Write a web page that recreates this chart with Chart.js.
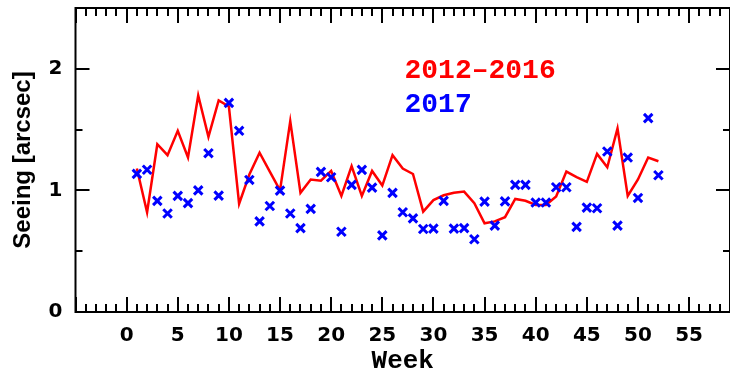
<!DOCTYPE html>
<html>
<head>
<meta charset="utf-8">
<script src="https://cdn.jsdelivr.net/npm/chart.js@4.4.1/dist/chart.umd.min.js"></script>
<style>
  html, body { margin: 0; padding: 0; background: #fff; }
  #wrap { width: 730px; height: 375px; }
</style>
</head>
<body>
<div id="wrap"><canvas id="seeing" width="730" height="375"></canvas></div>
<script>
// Weekly median seeing, weeks 1..52
const weeks = [1,2,3,4,5,6,7,8,9,10,11,12,13,14,15,16,17,18,19,20,21,22,23,24,25,26,
               27,28,29,30,31,32,33,34,35,36,37,38,39,40,41,42,43,44,45,46,47,48,49,50,51,52];

// 2012–2016 average (red line)
const seeing20122016 = [1.18,0.82,1.38,1.29,1.49,1.27,1.78,1.44,1.74,1.69,0.89,1.13,1.31,
                        1.155,1.00,1.57,0.98,1.09,1.08,1.16,0.955,1.20,0.955,1.16,1.04,1.29,
                        1.18,1.135,0.825,0.92,0.96,0.98,0.99,0.895,0.73,0.745,0.78,0.93,0.915,
                        0.88,0.88,0.95,1.155,1.11,1.07,1.30,1.19,1.51,0.955,1.09,1.27,1.24];

// 2017 (blue crosses)
const seeing2017 = [1.136,1.17,0.914,0.81,0.955,0.895,1.00,1.306,0.957,1.72,1.49,1.086,0.745,
                    0.872,0.998,0.81,0.69,0.848,1.152,1.108,0.66,1.045,1.169,1.023,0.63,0.98,
                    0.82,0.77,0.683,0.686,0.914,0.686,0.69,0.598,0.908,0.71,0.91,1.045,1.045,
                    0.90,0.90,1.026,1.026,0.70,0.858,0.853,1.32,0.71,1.27,0.938,1.594,1.125];

const xTickValues = [0,5,10,15,20,25,30,35,40,45,50,55];
const yTickValues = [0,1,2];
const seriesLabels = ['2012\u20132016', '2017'];
const xTitle = 'Week';
const yTitle = 'Seeing [arcsec]';

// Boxed frame with inward ticks on all four sides, plus the in-plot key
const framePlugin = {
  id: 'frameTicks',
  afterDatasetsDraw(chart) {
    const { ctx, chartArea: a, scales: { x, y } } = chart;
    ctx.save();
    ctx.strokeStyle = '#000';
    ctx.lineWidth = 2;
    ctx.strokeRect(a.left, a.top, a.right - a.left, a.bottom - a.top);

    ctx.beginPath();
    for (let v = Math.ceil(x.min); v <= Math.floor(x.max); v++) {
      const px = Math.round(x.getPixelForValue(v));
      const len = (v % 5 === 0) ? 15 : 8;
      ctx.moveTo(px, a.bottom); ctx.lineTo(px, a.bottom - len);
      ctx.moveTo(px, a.top);    ctx.lineTo(px, a.top + len);
    }
    for (let v = 0.5; v < y.max; v += 0.5) {
      const py = Math.round(y.getPixelForValue(v));
      const len = (v % 1 === 0) ? 14 : 7;
      ctx.moveTo(a.left, py);  ctx.lineTo(a.left + len, py);
      ctx.moveTo(a.right, py); ctx.lineTo(a.right - len, py);
    }
    ctx.stroke();

    // key
    ctx.font = 'bold 28px "Liberation Mono", "DejaVu Sans Mono", monospace';
    ctx.textAlign = 'left';
    ctx.textBaseline = 'alphabetic';
    ctx.fillStyle = '#ff0000';
    ctx.fillText(seriesLabels[0], a.left + 329, 78);
    ctx.fillStyle = '#0000ff';
    ctx.fillText(seriesLabels[1], a.left + 329, 112);
    ctx.restore();
  }
};

const tickFont = { family: '"DejaVu Sans", sans-serif', size: 20, weight: 'bold' };

new Chart(document.getElementById('seeing').getContext('2d'), {
  type: 'scatter',
  data: {
    datasets: [
      {
        label: seriesLabels[0],
        type: 'line',
        data: weeks.map((w, i) => ({ x: w, y: seeing20122016[i] })),
        borderColor: '#ff0000',
        borderWidth: 2.5,
        pointRadius: 0,
        tension: 0,
        fill: false,
        order: 2
      },
      {
        label: seriesLabels[1],
        data: weeks.map((w, i) => ({ x: w, y: seeing2017[i] })),
        pointStyle: 'crossRot',
        pointRadius: 6,
        borderWidth: 3,
        borderColor: '#0000ff',
        backgroundColor: '#0000ff',
        order: 1
      }
    ]
  },
  options: {
    responsive: false,
    animation: false,
    events: [],
    layout: { autoPadding: false, padding: { top: 8, right: 0, bottom: 0, left: 0 } },
    plugins: { legend: { display: false }, tooltip: { enabled: false } },
    scales: {
      x: {
        type: 'linear',
        min: -5,
        max: 59,
        afterBuildTicks: s => { s.ticks = xTickValues.map(v => ({ value: v })); },
        afterFit: s => { s.height = 63; s.paddingLeft = 0; s.paddingRight = 0; },
        grid: { display: false, drawTicks: false },
        border: { display: false },
        ticks: { color: '#000', font: tickFont, padding: 12, autoSkip: false, maxRotation: 0 },
        title: {
          display: true, text: xTitle, color: '#000',
          font: { family: '"Liberation Mono", monospace', size: 26, weight: 'bold', lineHeight: 1 },
          padding: { top: 0, bottom: 1 }
        }
      },
      y: {
        min: 0,
        max: 2.5,
        afterBuildTicks: s => { s.ticks = yTickValues.map(v => ({ value: v })); },
        afterFit: s => { s.width = 75.5; s.paddingTop = 0; s.paddingBottom = 0; },
        grid: { display: false, drawTicks: false },
        border: { display: false },
        ticks: { color: '#000', font: tickFont, padding: 13 },
        title: {
          display: true, text: yTitle, color: '#000',
          font: { family: '"Liberation Sans", Arial, sans-serif', size: 24, weight: 'bold', lineHeight: 1.2 },
          padding: { top: 9, bottom: 0 }
        }
      }
    }
  },
  plugins: [framePlugin]
});
</script>
</body>
</html>
